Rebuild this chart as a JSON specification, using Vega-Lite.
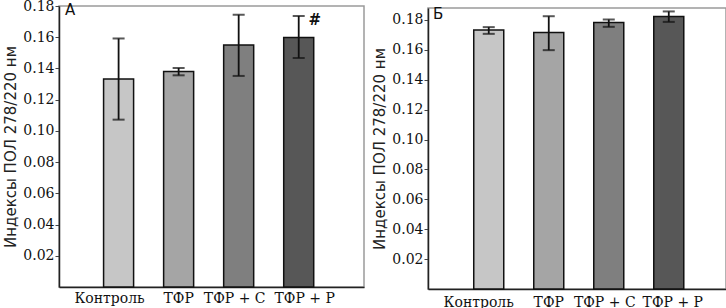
{
  "$schema": "https://vega.github.io/schema/vega-lite/v6.json",
  "padding": {"left": 3, "top": -2, "right": 0, "bottom": 0},
  "background": "white",
  "spacing": 7,
  "datasets": {
    "a": [
      {"group": "Контроль", "mean": 0.1333, "lo": 0.1072, "hi": 0.1592, "note": ""},
      {"group": "ТФР", "mean": 0.1381, "lo": 0.1356, "hi": 0.1403, "note": ""},
      {"group": "ТФР + С", "mean": 0.155, "lo": 0.1352, "hi": 0.1744, "note": ""},
      {"group": "ТФР + Р", "mean": 0.1599, "lo": 0.1467, "hi": 0.1736, "note": "#"}
    ],
    "b": [
      {"group": "Контроль", "mean": 0.1732, "lo": 0.1707, "hi": 0.1752, "note": ""},
      {"group": "ТФР", "mean": 0.1716, "lo": 0.1598, "hi": 0.1825, "note": ""},
      {"group": "ТФР + С", "mean": 0.1783, "lo": 0.1754, "hi": 0.1803, "note": ""},
      {"group": "ТФР + Р", "mean": 0.1823, "lo": 0.1787, "hi": 0.1857, "note": ""}
    ]
  },
  "config": {
    "view": {"stroke": "#9a9a9a", "strokeWidth": 1.5},
    "axis": {"grid": false, "domainColor": "#222222", "domainWidth": 1.5, "labelColor": "#111111", "labelFont": "DejaVu Serif", "labelFontSize": 14, "labelOverlap": false, "titleFont": "DejaVu Sans", "titleFontSize": 15, "titleFontWeight": "normal", "titleColor": "#222222", "tickColor": "#444444"},
    "title": {"font": "DejaVu Sans", "fontSize": 15, "fontWeight": "normal", "color": "#111111", "anchor": "start", "frame": "group"}
  },
  "hconcat": [
    {
      "width": 305,
      "height": 281,
      "title": {"text": "А", "offset": -19, "dx": 6},
      "data": {"name": "a"},
      "encoding": {
        "x": {"field": "group", "type": "nominal", "sort": null,
          "scale": {"paddingInner": 0.5, "paddingOuter": 0.79, "align": 0.47},
          "axis": {"title": null, "labelAngle": 0, "ticks": false, "labelPadding": 4, "labelOverlap": false,
            "labelOffset": {"condition": [{"test": "datum.value == 'Контроль'", "value": -9}, {"test": "datum.value == 'ТФР + С'", "value": -4}, {"test": "datum.value == 'ТФР + Р'", "value": 6}], "value": 0}}}
      },
      "layer": [
        {"mark": {"type": "bar", "stroke": "#111111", "strokeWidth": 1.5},
         "encoding": {
           "y": {"field": "mean", "type": "quantitative", "scale": {"domain": [0, 0.18], "nice": false},
             "axis": {"title": "Индексы ПОЛ  278/220 нм", "values": [0.02, 0.04, 0.06, 0.08, 0.1, 0.12, 0.14, 0.16, 0.18], "tickCount": 20, "format": ".2f", "tickSize": 4, "labelPadding": 1, "titlePadding": 4, "labelOverlap": false, "labelBound": false}},
           "color": {"field": "group", "type": "nominal", "sort": null, "legend": null,
             "scale": {"range": ["#c6c6c6", "#a5a5a5", "#7f7f7f", "#575757"]}}
         }},
        {"mark": {"type": "rule", "color": "#111111", "strokeWidth": 1.8},
         "encoding": {"y": {"field": "lo", "type": "quantitative"}, "y2": {"field": "hi"}}},
        {"mark": {"type": "tick", "color": "#111111", "thickness": 2, "size": 12},
         "encoding": {"y": {"field": "lo", "type": "quantitative"}}},
        {"mark": {"type": "tick", "color": "#111111", "thickness": 2, "size": 12},
         "encoding": {"y": {"field": "hi", "type": "quantitative"}}},
        {"transform": [{"filter": "datum.note != ''"}],
         "mark": {"type": "text", "font": "DejaVu Sans", "fontSize": 15, "fontWeight": "bold", "color": "#111111", "dx": 16, "dy": 4, "baseline": "middle"},
         "encoding": {"y": {"field": "hi", "type": "quantitative"}, "text": {"field": "note"}}}
      ]
    },
    {
      "spacing": -1,
      "vconcat": [
        {
          "width": 298,
          "height": 1,
          "data": {"values": []},
          "mark": "point",
          "view": {"stroke": null}
        },
        {
          "width": 298,
          "height": 281,
          "title": {"text": "Б", "offset": -14, "dx": 5},
          "data": {"name": "b"},
          "encoding": {
            "x": {"field": "group", "type": "nominal", "sort": null,
              "scale": {"paddingInner": 0.5, "paddingOuter": 0.733, "align": 0.52},
              "axis": {"title": null, "labelAngle": 0, "ticks": false, "labelPadding": 6, "labelOverlap": false,
                "labelOffset": {"condition": [{"test": "datum.value == 'Контроль'", "value": -10}, {"test": "datum.value == 'ТФР + С'", "value": -4}, {"test": "datum.value == 'ТФР + Р'", "value": 4}], "value": 0}}}
          },
          "layer": [
            {"mark": {"type": "bar", "stroke": "#111111", "strokeWidth": 1.5},
             "encoding": {
               "y": {"field": "mean", "type": "quantitative", "scale": {"domain": [0, 0.188], "nice": false},
                 "axis": {"title": "Индексы ПОЛ  278/220 нм", "values": [0.02, 0.04, 0.06, 0.08, 0.1, 0.12, 0.14, 0.16, 0.18], "tickCount": 20, "format": ".2f", "tickSize": 4, "labelPadding": 1, "titlePadding": 4, "labelOverlap": false}},
               "color": {"field": "group", "type": "nominal", "sort": null, "legend": null,
                 "scale": {"range": ["#c6c6c6", "#a5a5a5", "#7f7f7f", "#575757"]}}
             }},
            {"mark": {"type": "rule", "color": "#111111", "strokeWidth": 1.8},
             "encoding": {"y": {"field": "lo", "type": "quantitative"}, "y2": {"field": "hi"}}},
            {"mark": {"type": "tick", "color": "#111111", "thickness": 2, "size": 12},
             "encoding": {"y": {"field": "lo", "type": "quantitative"}}},
            {"mark": {"type": "tick", "color": "#111111", "thickness": 2, "size": 12},
             "encoding": {"y": {"field": "hi", "type": "quantitative"}}}
          ]
        }
      ]
    }
  ],
  "resolve": {"scale": {"color": "independent"}}
}
